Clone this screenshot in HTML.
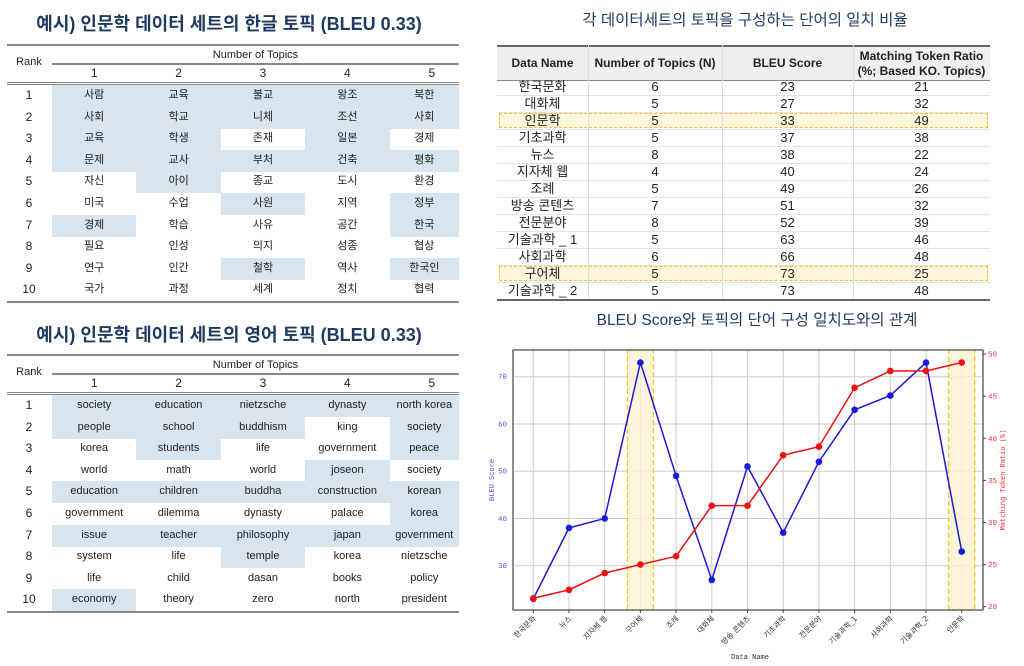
<!DOCTYPE html>
<html><head><meta charset="utf-8">
<style>
body{margin:0;width:1024px;height:666px;background:#fff;position:relative;overflow:hidden;font-family:"Liberation Sans","Noto Sans CJK KR",sans-serif;color:#222}
.abs{position:absolute}
.title{position:absolute;color:#1e3a5f;white-space:nowrap;transform:translateX(-50%)}
.cell{position:absolute;text-align:center;font-size:11px;line-height:21px;white-space:nowrap}
.hl{background:#d6e5ef}
.line{position:absolute;background:#888}
</style></head><body>
<div class="title" style="left:229px;top:10px;font-size:18px;font-weight:bold">예시) 인문학 데이터 세트의 한글 토픽 (BLEU 0.33)</div>
<div class="title" style="left:229px;top:321px;font-size:18px;font-weight:bold">예시) 인문학 데이터 세트의 영어 토픽 (BLEU 0.33)</div>
<div class="title" style="left:745px;top:8px;font-size:15.5px">각 데이터세트의 토픽을 구성하는 단어의 일치 비율</div>
<div class="title" style="left:757px;top:308px;font-size:15.5px">BLEU Score와 토픽의 단어 구성 일치도와의 관계</div>
<div id="t1" class="abs" style="left:0;top:0"></div>
<div id="t2" class="abs" style="left:0;top:0"></div>
<div id="t3" class="abs" style="left:0;top:0"></div>
<svg id="chart" class="abs" style="left:0;top:0" width="1024" height="666"></svg>
<script>
const koWords=[["사람","교육","불교","왕조","북한"],["사회","학교","니체","조선","사회"],["교육","학생","존재","일본","경제"],["문제","교사","부처","건축","평화"],["자신","아이","종교","도시","환경"],["미국","수업","사원","지역","정부"],["경제","학습","사유","공간","한국"],["필요","인성","의지","성종","협상"],["연구","인간","철학","역사","한국인"],["국가","과정","세계","정치","협력"]];
const koHl=["11111","11111","11010","11111","01000","00101","10001","00000","00101","00000"];
const enWords=[["society","education","nietzsche","dynasty","north korea"],["people","school","buddhism","king","society"],["korea","students","life","government","peace"],["world","math","world","joseon","society"],["education","children","buddha","construction","korean"],["government","dilemma","dynasty","palace","korea"],["issue","teacher","philosophy","japan","government"],["system","life","temple","korea","nietzsche"],["life","child","dasan","books","policy"],["economy","theory","zero","north","president"]];
const enHl=["11111","11101","01001","00010","11111","00001","11111","00100","00000","10000"];
const tblNames=["한국문화","대화체","인문학","기초과학","뉴스","지자체 웹","조례","방송 콘텐츠","전문분야","기술과학 _ 1","사회과학","구어체","기술과학 _ 2"];
const tblTopics=[6,5,5,5,8,4,5,7,8,5,6,5,5];
const tblBleu=[23,27,33,37,38,40,49,51,52,63,66,73,73];
const tblRatio=[21,32,49,38,22,24,26,32,39,46,48,25,48];
const tblHighlight=["인문학","구어체"];
const categories=["한국문화","뉴스","지자체 웹","구어체","조례","대화체","방송 콘텐츠","기초과학","전문분야","기술과학_1","사회과학","기술과학_2","인문학"];
const bleuValues=[23,38,40,73,49,27,51,37,52,63,66,73,33];
const ratioValues=[21,22,24,25,26,32,32,38,39,46,48,48,49];
const leftTicks=[30,40,50,60,70];
const rightTicks=[20,25,30,35,40,45,50];
const highlightCats=["구어체","인문학"];

function div(parent,cls,style,text){const d=document.createElement('div');d.className=cls;d.style.cssText=style;if(text!==undefined)d.textContent=text;parent.appendChild(d);return d;}
function topicTable(id,top,words,hl,prefix){
  const p=document.getElementById(id);
  const L=7,R=459,c0=52,cw=84.4;
  let l=div(p,'line',`left:${L}px;top:${top}px;width:${R-L}px;height:2px`);
  
  let h=div(p,'cell',`left:${c0}px;top:${top+1}px;width:${R-c0}px`,'Number of Topics');
  
  l=div(p,'line',`left:${c0}px;top:${top+19}px;width:${R-c0}px;height:2px`);
  
  h=div(p,'cell',`left:${L}px;top:${top+8}px;width:44px`,'Rank');
  
  for(let c=0;c<5;c++){h=div(p,'cell',`left:${c0+c*cw}px;top:${top+19}px;width:${cw}px;font-size:12px`,String(c+1));
    }
  l=div(p,'line',`left:${L}px;top:${top+38}px;width:${R-L}px;height:1px`);
  
  l=div(p,'line',`left:${L}px;top:${top+40}px;width:${R-L}px;height:1px`);
  
  const r0=top+41,rh=21.6;
  for(let r=0;r<10;r++){
    const rk=div(p,'cell',`left:${L}px;top:${r0+r*rh}px;width:44px;height:${rh}px;line-height:${rh}px;font-size:12px`,String(r+1));
    
    for(let c=0;c<5;c++){
      const d=div(p,'cell'+(hl[r][c]==='1'?' hl':''),`left:${c0+c*cw}px;top:${r0+r*rh}px;width:${c==4?R-c0-4*cw:cw}px;height:${rh+0.5}px;line-height:${rh}px`,words[r][c]);
      
    }
  }
  l=div(p,'line',`left:${L}px;top:${r0+10*rh}px;width:${R-L}px;height:2px`);
  
}
topicTable('t1',44,koWords,koHl,'ko-table');
topicTable('t2',354,enWords,enHl,'en-table');

(function(){
  const p=document.getElementById('t3');
  const L=497,R=990,cols=[497,588,722,853,990],top=45,hh=33,r0=78,rh=17;
  let d=div(p,'abs',`left:${L}px;top:${top}px;width:${R-L}px;height:${hh}px;background:#efefef;border-top:2px solid #666;border-bottom:1px solid #888`);
  
  const heads=["Data Name","Number of Topics (N)","BLEU Score","Matching Token Ratio<br>(%; Based KO. Topics)"];
  for(let c=0;c<4;c++){const h=div(p,'abs',`left:${cols[c]}px;top:${top+2}px;width:${cols[c+1]-cols[c]}px;height:${hh}px;display:flex;align-items:center;justify-content:center;text-align:center;font-size:12px;font-weight:bold;line-height:15px;color:#222`);
    h.innerHTML=heads[c];}
  for(let r=0;r<tblNames.length;r++){
    const y=r0+r*rh;
    if(tblHighlight.includes(tblNames[r])){
      const b=div(p,'abs',`left:${L+2}px;top:${y+1}px;width:${R-L-6}px;height:${rh-4}px;background:#fdf6dc;border:1px dashed #f0c040`);
      
    }
    const vals=[tblNames[r],tblTopics[r],tblBleu[r],tblRatio[r]];
    for(let c=0;c<4;c++){const t=div(p,'cell',`left:${cols[c]}px;top:${y}px;width:${cols[c+1]-cols[c]}px;height:${rh}px;line-height:${rh}px;font-size:13px;color:#222`,String(vals[c]));
      }
    const ln=div(p,'line',`left:${L}px;top:${y+rh}px;width:${R-L}px;height:1px;background:#e4e4e4`);
    
  }
  for(let c=1;c<4;c++){const v=div(p,'line',`left:${cols[c]}px;top:${top}px;width:1px;height:${r0+13*rh-top}px;background:#ddd`);
    }
  const b=div(p,'line',`left:${L}px;top:${r0+13*rh}px;width:${R-L}px;height:2px;background:#666`);
  
})();

(function(){
  const svg=document.getElementById('chart');const NS='http://www.w3.org/2000/svg';
  function el(t,a,parent){const e=document.createElementNS(NS,t);for(const k in a)e.setAttribute(k,a[k]);(parent||svg).appendChild(e);return e;}
  const PL=513,PR=983,PT=350,PB=610;
  const x0=533.3,dx=(961.7-533.3)/(categories.length-1);
  const xs=i=>x0+i*dx;
  const yL=v=>565.7-(v-30)*4.725;
  const yR=v=>606.7-(v-20)*8.42;
  let e;
  categories.forEach((c,i)=>{e=el('line',{x1:xs(i),x2:xs(i),y1:PT,y2:PB,stroke:'#ccc','stroke-width':1});
    });
  leftTicks.forEach(v=>{e=el('line',{x1:PL,x2:PR,y1:yL(v),y2:yL(v),stroke:'#ccc','stroke-width':1});
    });
  highlightCats.forEach(c=>{const i=categories.indexOf(c);
    e=el('rect',{x:xs(i)-13,y:PT,width:26,height:PB-PT,fill:'#fdf3d0','fill-opacity':0.8,stroke:'#f5c518','stroke-dasharray':'5,3','stroke-width':1.2});
    });
  e=el('rect',{x:PL,y:PT,width:PR-PL,height:PB-PT,fill:'none',stroke:'#444','stroke-width':1.2});
  
  const bl=el('polyline',{points:bleuValues.map((v,i)=>xs(i)+','+yL(v)).join(' '),fill:'none',stroke:'#1a1ad6','stroke-width':1.5});
  
  const rl=el('polyline',{points:ratioValues.map((v,i)=>xs(i)+','+yR(v)).join(' '),fill:'none',stroke:'#ee1111','stroke-width':1.5});
  
  bleuValues.forEach((v,i)=>{e=el('circle',{cx:xs(i),cy:yL(v),r:3.3,fill:'#1a1ad6'});
    });
  ratioValues.forEach((v,i)=>{e=el('circle',{cx:xs(i),cy:yR(v),r:3.3,fill:'#ee1111'});
    });
  const mono='"Liberation Mono","DejaVu Sans Mono",monospace';
  leftTicks.forEach(v=>{e=el('text',{x:PL-6,y:yL(v)+2.5,'text-anchor':'end','font-size':7.5,fill:'#5555ee','font-family':mono});e.textContent=v;
    });
  rightTicks.forEach(v=>{e=el('text',{x:PR+5,y:yR(v)+2.5,'font-size':7.5,fill:'#ee3333','font-family':mono});e.textContent=v;
    
    e=el('line',{x1:PR,x2:PR+3,y1:yR(v),y2:yR(v),stroke:'#444'});});
  categories.forEach((c,i)=>{const x=xs(i),y=PB+7;
    e=el('line',{x1:x,x2:x,y1:PB,y2:PB+3,stroke:'#444'});
    e=el('text',{x:x+3,y:y+2,'text-anchor':'end','font-size':7.5,fill:'#333','font-family':'"DejaVu Sans","Noto Sans CJK KR",sans-serif',transform:`rotate(-45 ${x+3} ${y+2})`});
    e.textContent=c;});
  e=el('text',{x:750,y:659,'text-anchor':'middle','font-size':7,fill:'#333','font-family':mono});e.textContent='Data Name';
  
  e=el('text',{x:0,y:0,'text-anchor':'middle','font-size':7,fill:'#5555ee','font-family':mono,transform:'translate(494 480) rotate(-90)'});e.textContent='BLEU Score';
  
  e=el('text',{x:0,y:0,'text-anchor':'middle','font-size':7,fill:'#ee3333','font-family':mono,transform:'translate(1005 480) rotate(-90)'});e.textContent='Matching Token Ratio (%)';
  
})();
</script>
</body></html>
